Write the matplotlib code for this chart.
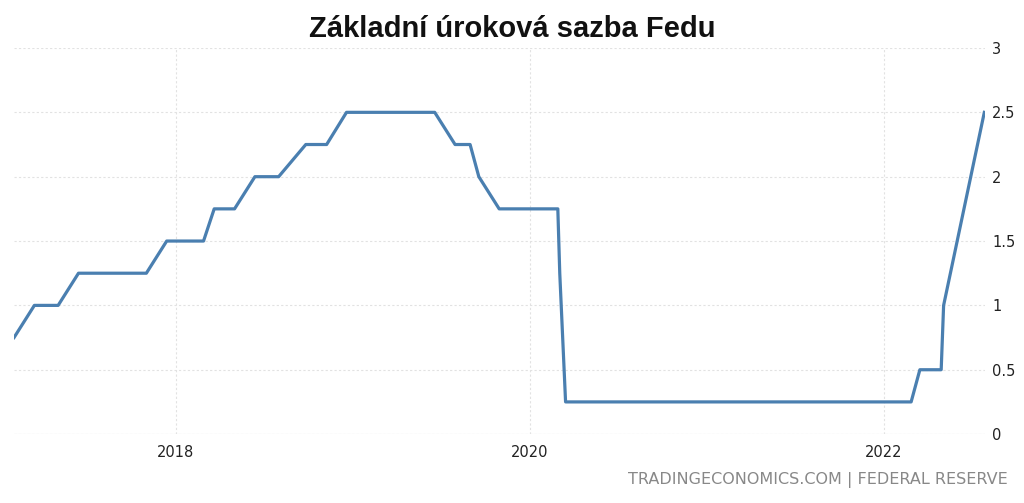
import matplotlib
matplotlib.use('Agg')
import matplotlib.pyplot as plt
import pandas as pd

# FOMC decisions (upper bound, %)
dates = ['2017-02-01', '2017-03-15', '2017-05-03', '2017-06-14', '2017-07-26',
         '2017-09-20', '2017-11-01', '2017-12-13', '2018-01-31', '2018-02-27',
         '2018-03-21', '2018-05-02', '2018-06-13', '2018-08-01', '2018-09-26',
         '2018-11-08', '2018-12-19', '2019-01-30', '2019-03-20', '2019-05-01',
         '2019-06-19', '2019-07-31', '2019-08-31', '2019-09-18', '2019-10-30',
         '2019-12-11', '2020-01-29', '2020-02-28', '2020-03-03', '2020-03-15',
         '2020-04-29', '2020-06-10', '2020-07-29', '2020-09-16', '2020-11-05',
         '2020-12-16', '2021-01-27', '2021-03-17', '2021-04-28', '2021-06-16',
         '2021-07-28', '2021-09-22', '2021-11-03', '2021-12-15', '2022-01-26',
         '2022-02-26', '2022-03-16', '2022-04-29', '2022-05-04', '2022-06-15',
         '2022-07-27']
rates = [0.75, 1.00, 1.00, 1.25, 1.25,
         1.25, 1.25, 1.50, 1.50, 1.50,
         1.75, 1.75, 2.00, 2.00, 2.25,
         2.25, 2.50, 2.50, 2.50, 2.50,
         2.50, 2.25, 2.25, 2.00, 1.75,
         1.75, 1.75, 1.75, 1.25, 0.25,
         0.25, 0.25, 0.25, 0.25, 0.25,
         0.25, 0.25, 0.25, 0.25, 0.25,
         0.25, 0.25, 0.25, 0.25, 0.25,
         0.25, 0.50, 0.50, 1.00, 1.75,
         2.50]
yticks = [0, 0.5, 1, 1.5, 2, 2.5, 3]
ytick_labels = ['0', '0.5', '1', '1.5', '2', '2.5', '3']
xticks = ['2018-01-01', '2020-01-01', '2022-01-01']
xtick_labels = ['2018', '2020', '2022']

x = pd.to_datetime(dates)

fig = plt.figure(figsize=(10.24, 5.03), dpi=100)
ax = fig.add_axes([0.0137, 0.137, 0.9485, 0.7676])

ax.plot(x, rates, color='#4a7fb0', linewidth=2.3)

ax.set_xlim(x[0], x[-1] + pd.Timedelta(days=2))
ax.set_ylim(0, 3)
ax.set_yticks(yticks)
ax.set_yticklabels(ytick_labels)
ax.set_xticks(pd.to_datetime(xticks))
ax.set_xticklabels(xtick_labels)
ax.yaxis.tick_right()
ax.tick_params(axis='both', length=0, labelsize=10.5, colors='#222222')
ax.tick_params(axis='y', pad=5)
ax.tick_params(axis='x', pad=8)

ax.grid(True, color='#e2e2e2', linestyle=(0, (2, 2)), linewidth=0.8)
ax.set_axisbelow(True)
for s in ax.spines.values():
    s.set_visible(False)
ax.axhline(0, color='#dddddd', linewidth=0.8, zorder=0)

fig.text(0.5, 0.943, 'Základní úroková sazba Fedu', ha='center', va='center',
         fontsize=21, fontweight='bold', family='Liberation Sans', color='#111111')
fig.text(0.984, 0.045, 'TRADINGECONOMICS.COM | FEDERAL RESERVE', ha='right', va='center',
         fontsize=11.5, color='#888888')

fig.savefig('out.png', dpi=100)
